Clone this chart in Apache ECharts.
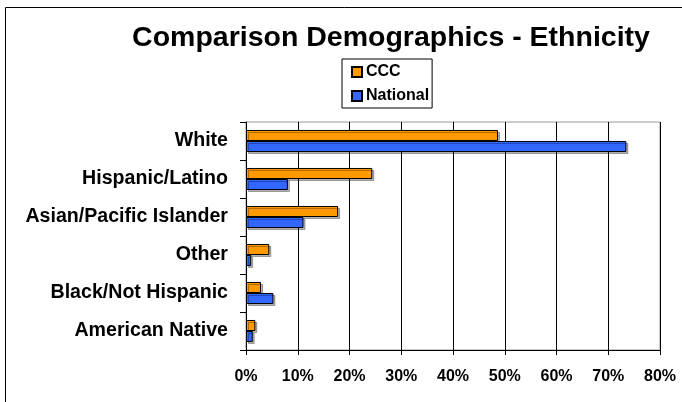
<!DOCTYPE html>
<html><head><meta charset="utf-8">
<script src="https://cdn.jsdelivr.net/npm/echarts@6/dist/echarts.min.js"></script>
<style>html,body{margin:0;padding:0;background:#fff}#c{width:682px;height:402px}</style>
</head><body><div id="c"></div>
<script>
var categories = ['White','Hispanic/Latino','Asian/Pacific Islander','Other','Black/Not Hispanic','American Native'];
var ccc = [48.7, 24.4, 17.8, 4.5, 2.9, 1.8];
var national = [73.5, 8.1, 11.1, 1.0, 5.3, 1.3];
var xTicks = [0,10,20,30,40,50,60,70,80];
var font = '"Liberation Sans", Arial, sans-serif';
var chart = echarts.init(document.getElementById('c'));
chart.setOption({
  animation: false,
  backgroundColor: '#fff',
  graphic: [{type:'rect', shape:{x:5.5,y:7.5,width:720,height:440}, style:{fill:'none',stroke:'#000',lineWidth:1}}],
  title: {text:'Comparison Demographics - Ethnicity', left:386, textAlign:'center', top:19,
    textStyle:{fontFamily:font, fontWeight:'bold', fontSize:28.5, color:'#000'}},
  legend: {orient:'vertical', left:342, top:59, padding:[5,3,4,9], itemGap:8,
    borderColor:'#000', borderWidth:1, itemWidth:10, itemHeight:10,
    textStyle:{fontFamily:font, fontWeight:'bold', fontSize:16, color:'#000', padding:[0,0,0,-1]},
    data:[{name:'CCC', icon:'rect'},{name:'National', icon:'rect'}]},
  grid: {left:246, right:22, top:122, bottom:52, show:true, borderColor:'#999', borderWidth:1},
  xAxis: {type:'value', min:0, max:80, interval:10,
    axisLine:{show:true, lineStyle:{color:'#000', width:1}},
    axisTick:{show:true, length:5, lineStyle:{color:'#000'}},
    splitLine:{show:true, lineStyle:{color:'#000', width:1}},
    axisLabel:{formatter:function(v){return xTicks.indexOf(v)>=0 ? v+'%' : '';}, margin:19,
      fontFamily:font, fontWeight:'bold', fontSize:16, color:'#000'}},
  yAxis: {type:'category', inverse:true, data:categories,
    axisLine:{show:true, lineStyle:{color:'#000', width:1}},
    axisTick:{show:true, length:6, lineStyle:{color:'#000'}},
    axisLabel:{margin:18, fontFamily:font, fontWeight:'bold', fontSize:19.6, color:'#000'}},
  series: [
    {name:'CCC', type:'bar', data:ccc, barGap:'0%', barCategoryGap:'42%',
      itemStyle:{color:'#FF9900', borderColor:'#000', borderWidth:1, shadowColor:'rgba(0,0,0,0.3)', shadowOffsetX:2, shadowOffsetY:2}},
    {name:'National', type:'bar', data:national, barGap:'0%', barCategoryGap:'42%',
      itemStyle:{color:'#3366FF', borderColor:'#000', borderWidth:1, shadowColor:'rgba(0,0,0,0.3)', shadowOffsetX:2, shadowOffsetY:2}}
  ]
});
</script></body></html>
